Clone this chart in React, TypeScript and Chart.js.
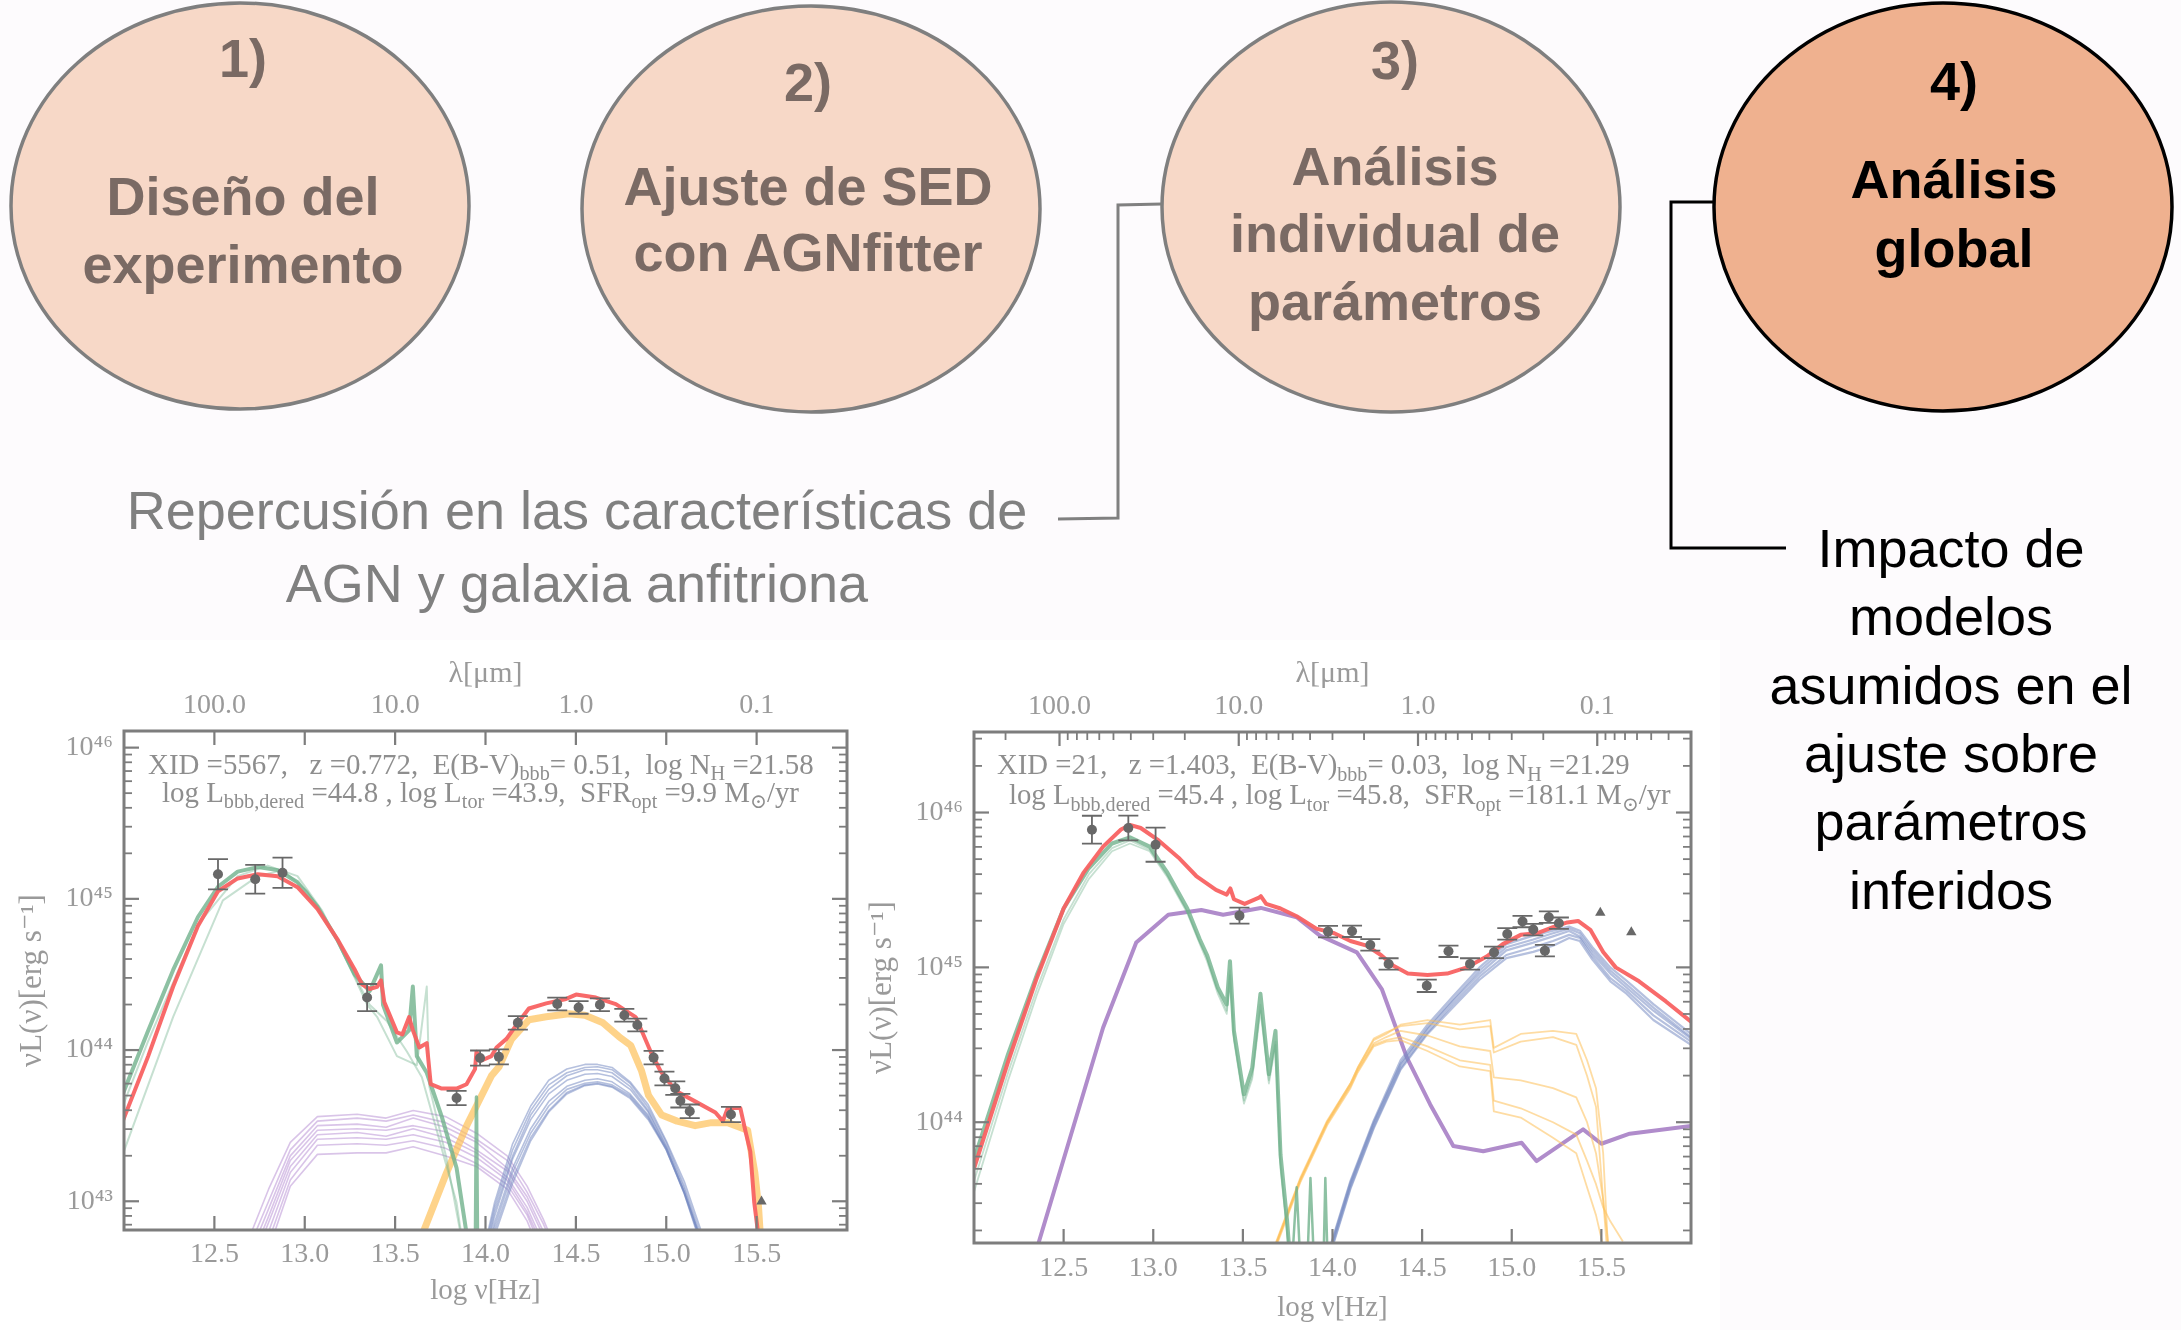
import React, { useEffect, useRef } from 'react';
import { Chart, registerables } from 'chart.js';
Chart.register(...registerables);

// ---------------- Diagram text ----------------
const STEP_LABELS = ['1)', '2)', '3)', '4)'];
const STEP_TITLES = [
  ['Diseño del', 'experimento'],
  ['Ajuste de SED', 'con AGNfitter'],
  ['Análisis', 'individual de', 'parámetros'],
  ['Análisis', 'global'],
];
const NOTE_LEFT = ['Repercusión en las características de', 'AGN y galaxia anfitriona'];
const NOTE_RIGHT = ['Impacto de', 'modelos', 'asumidos en el', 'ajuste sobre', 'parámetros', 'inferidos'];

// ---------------- Axis ticks ----------------
const X_TICKS = [12.5, 13.0, 13.5, 14.0, 14.5, 15.0, 15.5];
const Y_DECADES = [43, 44, 45, 46];
const LAMBDA_LABELS = ['100.0', '10.0', '1.0', '0.1'];
const LEFT_LAMBDA_POS = [12.5, 13.5, 14.5, 15.5];
const RIGHT_LAMBDA_POS = [12.477, 13.477, 14.477, 15.477];

// ================= LEFT SED (XID 5567) =================
const A_OBS_X = [12.52, 12.726, 12.877, 13.345, 13.84, 13.97, 14.074, 14.179, 14.397, 14.515, 14.633, 14.768, 14.84, 14.93, 14.99, 15.05, 15.078, 15.13, 15.358];
const A_OBS_Y = [45.163, 45.129, 45.172, 44.347, 43.683, 43.947, 43.955, 44.18, 44.305, 44.282, 44.3, 44.23, 44.166, 43.95, 43.812, 43.748, 43.665, 43.595, 43.574];
const A_OBS_ERR = [0.1, 0.095, 0.1, 0.09, 0.047, 0.05, 0.05, 0.045, 0.042, 0.042, 0.042, 0.042, 0.042, 0.045, 0.045, 0.045, 0.045, 0.045, 0.05];
const A_LIM_X = [15.527];
const A_LIM_Y = [42.999];

const A_RED_X = [11.99, 12.134, 12.272, 12.409, 12.52, 12.629, 12.74, 12.85, 12.96, 13.07, 13.18, 13.276, 13.318, 13.359, 13.4, 13.422, 13.44, 13.51, 13.54, 13.577, 13.598, 13.634, 13.675, 13.697, 13.758, 13.84, 13.895, 13.942, 13.95, 13.978, 14.033, 14.061, 14.116, 14.185, 14.24, 14.336, 14.446, 14.501, 14.611, 14.721, 14.831, 14.873, 14.914, 14.969, 15.052, 15.162, 15.272, 15.313, 15.34, 15.41, 15.437, 15.465, 15.487, 15.506, 15.52];
const A_RED_Y = [43.52, 43.96, 44.42, 44.82, 45.05, 45.135, 45.163, 45.149, 45.077, 44.934, 44.734, 44.533, 44.433, 44.404, 44.418, 44.461, 44.318, 44.117, 44.103, 44.218, 44.132, 44.017, 44.046, 43.774, 43.745, 43.745, 43.774, 43.874, 43.989, 43.931, 43.96, 44.017, 44.074, 44.189, 44.275, 44.309, 44.338, 44.367, 44.347, 44.304, 44.218, 44.103, 43.989, 43.86, 43.731, 43.659, 43.587, 43.53, 43.616, 43.616, 43.47, 43.33, 42.99, 42.81, 42.4];

const A_DUST1_X = [11.99, 12.134, 12.272, 12.409, 12.52, 12.629, 12.74, 12.85, 12.96, 13.07, 13.18, 13.276, 13.359, 13.422, 13.433, 13.51, 13.577, 13.598, 13.62, 13.675, 13.758, 13.84, 13.9];
const A_DUST1_Y = [43.7, 44.13, 44.53, 44.88, 45.08, 45.18, 45.21, 45.19, 45.11, 44.95, 44.73, 44.5, 44.39, 44.56, 44.3, 44.05, 44.13, 44.42, 43.96, 43.85, 43.56, 43.22, 42.75];
const A_DUST2_X = [11.99, 12.272, 12.547, 12.74, 12.877, 13.015, 13.152, 13.276, 13.345, 13.4, 13.51, 13.62, 13.675, 13.689, 13.785, 13.868];
const A_DUST2_Y = [43.3, 44.22, 44.99, 45.15, 45.19, 45.05, 44.79, 44.48, 44.3, 44.22, 43.96, 43.9, 44.42, 43.76, 43.28, 42.75];
const A_DUST3_X = [11.99, 12.134, 12.409, 12.629, 12.795, 12.96, 13.097, 13.276, 13.359, 13.455, 13.565, 13.648, 13.73, 13.84, 13.87];
const A_DUST3_Y = [43.62, 44.06, 44.83, 45.15, 45.22, 45.15, 44.92, 44.49, 44.3, 44.19, 43.99, 43.82, 43.47, 42.99, 42.75];
const A_DUST_SPIKE_X = [13.944, 13.95, 13.956];
const A_DUST_SPIKE_Y = [42.7, 43.69, 42.7];

const A_TORUS_X = [12.68, 12.8, 12.92, 13.07, 13.29, 13.45, 13.6, 13.78, 13.95, 14.12, 14.23, 14.32, 14.42];
const A_TORUS_1 = [42.72, 43.08, 43.39, 43.56, 43.575, 43.55, 43.6, 43.56, 43.45, 43.3, 43.1, 42.88, 42.6];
const A_TORUS_2 = [42.66, 43.0, 43.34, 43.53, 43.55, 43.53, 43.57, 43.52, 43.41, 43.27, 43.06, 42.85, 42.58];
const A_TORUS_3 = [42.6, 42.95, 43.3, 43.5, 43.51, 43.49, 43.55, 43.49, 43.39, 43.22, 43.03, 42.8, 42.52];
const A_TORUS_4 = [42.55, 42.9, 43.27, 43.47, 43.48, 43.47, 43.5, 43.46, 43.34, 43.2, 43.0, 42.77, 42.5];
const A_TORUS_5 = [42.5, 42.86, 43.23, 43.44, 43.455, 43.43, 43.48, 43.42, 43.32, 43.16, 42.96, 42.72, 42.45];
const A_TORUS_6 = [42.45, 42.8, 43.19, 43.41, 43.42, 43.41, 43.44, 43.39, 43.29, 43.14, 42.93, 42.69, 42.42];
const A_TORUS_7 = [42.4, 42.74, 43.14, 43.37, 43.38, 43.37, 43.4, 43.35, 43.25, 43.11, 42.91, 42.65, 42.4];
const A_TORUS_8 = [42.35, 42.68, 43.1, 43.31, 43.32, 43.32, 43.36, 43.3, 43.23, 43.08, 42.87, 42.61, 42.35];

const A_BBB_X = [13.98, 14.05, 14.15, 14.25, 14.35, 14.45, 14.55, 14.62, 14.7, 14.8, 14.9, 15.0, 15.1, 15.2, 15.26];
const A_BBB_1 = [42.62, 42.99, 43.38, 43.63, 43.8, 43.875, 43.905, 43.905, 43.885, 43.79, 43.64, 43.4, 43.13, 42.78, 42.5];
const A_BBB_2 = [42.6, 42.96, 43.34, 43.6, 43.77, 43.85, 43.885, 43.89, 43.87, 43.78, 43.62, 43.39, 43.1, 42.75, 42.5];
const A_BBB_3 = [42.57, 42.93, 43.3, 43.57, 43.74, 43.83, 43.87, 43.87, 43.85, 43.76, 43.6, 43.37, 43.08, 42.72, 42.48];
const A_BBB_4 = [42.55, 42.9, 43.28, 43.54, 43.71, 43.8, 43.84, 43.845, 43.825, 43.74, 43.59, 43.36, 43.06, 42.7, 42.45];
const A_BBB_5 = [42.52, 42.86, 43.22, 43.48, 43.66, 43.76, 43.8, 43.81, 43.79, 43.71, 43.57, 43.35, 43.05, 42.68, 42.43];
const A_BBB_6 = [42.5, 42.83, 43.19, 43.45, 43.63, 43.74, 43.78, 43.79, 43.77, 43.7, 43.56, 43.34, 43.05, 42.7, 42.45];
const A_BBB_7 = [42.47, 42.8, 43.15, 43.42, 43.6, 43.72, 43.77, 43.78, 43.76, 43.69, 43.55, 43.35, 43.06, 42.72, 42.48];
const A_BBB_8 = [42.45, 42.77, 43.12, 43.4, 43.59, 43.71, 43.765, 43.775, 43.755, 43.68, 43.54, 43.34, 43.06, 42.72, 42.5];

const A_STARS_X = [13.66, 13.785, 13.896, 13.958, 14.033, 14.075, 14.143, 14.24, 14.336, 14.46, 14.55, 14.65, 14.737, 14.804, 14.864, 14.902, 14.975, 15.06, 15.16, 15.25, 15.34, 15.45, 15.49, 15.51, 15.53];
const A_STARS_Y = [42.81, 43.19, 43.5, 43.65, 43.83, 43.89, 44.07, 44.2, 44.22, 44.24, 44.23, 44.18, 44.09, 44.03, 43.86, 43.7, 43.57, 43.53, 43.5, 43.52, 43.52, 43.47, 43.19, 42.97, 42.6];

// ================= RIGHT SED (XID 21) =================
const B_OBS_X = [12.658, 12.861, 13.013, 13.481, 13.975, 14.109, 14.211, 14.313, 14.526, 14.647, 14.767, 14.901, 14.975, 15.06, 15.12, 15.207, 15.263, 15.185];
const B_OBS_Y = [45.889, 45.9, 45.792, 45.334, 45.231, 45.233, 45.145, 45.022, 44.881, 45.104, 45.022, 45.097, 45.216, 45.296, 45.244, 45.324, 45.285, 45.108];
const B_OBS_ERR = [0.09, 0.08, 0.11, 0.052, 0.037, 0.037, 0.037, 0.037, 0.04, 0.037, 0.037, 0.037, 0.037, 0.037, 0.037, 0.037, 0.037, 0.037];
const B_LIM_X = [15.494, 15.667];
const B_LIM_Y = [45.352, 45.227];

const B_RED_X = [12.0, 12.19, 12.35, 12.5, 12.61, 12.72, 12.82, 12.87, 12.93, 13.03, 13.14, 13.24, 13.35, 13.41, 13.43, 13.45, 13.51, 13.59, 13.6, 13.63, 13.71, 13.8, 13.91, 14.01, 14.1, 14.19, 14.27, 14.34, 14.42, 14.53, 14.64, 14.75, 14.86, 14.95, 15.05, 15.14, 15.23, 15.31, 15.37, 15.44, 15.51, 15.58, 15.71, 15.86, 16.0];
const B_RED_Y = [43.7, 44.39, 44.93, 45.38, 45.61, 45.78, 45.89, 45.92, 45.9, 45.82, 45.71, 45.59, 45.5, 45.47, 45.51, 45.44, 45.41, 45.45, 45.46, 45.41, 45.38, 45.33, 45.25, 45.22, 45.17, 45.14, 45.08, 45.01, 44.96, 44.95, 44.96, 45.0, 45.07, 45.15, 45.21, 45.22, 45.26, 45.29, 45.3, 45.24, 45.1, 45.0, 44.91, 44.78, 44.65];

const B_DUST_X = [12.0, 12.19, 12.35, 12.5, 12.64, 12.77, 12.87, 12.98, 13.08, 13.19, 13.26, 13.3, 13.36, 13.41, 13.428, 13.45, 13.506, 13.552, 13.598, 13.645, 13.682, 13.71, 13.747, 13.77];
const B_DUST_1 = [43.76, 44.44, 44.95, 45.38, 45.64, 45.8, 45.84, 45.78, 45.61, 45.38, 45.18, 45.08, 44.87, 44.76, 45.04, 44.59, 44.18, 44.35, 44.83, 44.31, 44.59, 43.79, 43.36, 43.0];
const B_DUST_2 = [43.62, 44.32, 44.86, 45.31, 45.6, 45.77, 45.82, 45.76, 45.59, 45.36, 45.16, 45.06, 44.85, 44.72, 44.98, 44.55, 44.14, 44.3, 44.76, 44.27, 44.52, 43.74, 43.3, 43.0];
const B_DUST_3 = [43.55, 44.27, 44.82, 45.28, 45.57, 45.75, 45.8, 45.75, 45.58, 45.35, 45.15, 45.04, 44.83, 44.7, 44.95, 44.53, 44.12, 44.28, 44.72, 44.25, 44.5, 43.7, 43.28, 43.0];
const B_DUST_SPIKE_X = [13.77, 13.8, 13.82, 13.86, 13.877, 13.9, 13.95, 13.96, 13.975];
const B_DUST_SPIKE_Y = [43.0, 43.58, 43.1, 43.1, 43.64, 43.0, 43.1, 43.64, 43.0];

const B_TORUS_X = [12.3, 12.36, 12.72, 12.905, 13.084, 13.268, 13.39, 13.6, 13.8, 13.93, 14.136, 14.275, 14.415, 14.545, 14.674, 14.841, 15.055, 15.138, 15.398, 15.5, 15.658, 16.0];
const B_TORUS_Y = [43.0, 43.22, 44.61, 45.16, 45.34, 45.37, 45.34, 45.384, 45.324, 45.205, 45.097, 44.86, 44.417, 44.115, 43.846, 43.813, 43.867, 43.749, 43.954, 43.861, 43.926, 43.975];

const B_BBB_X = [13.98, 14.1, 14.23, 14.38, 14.53, 14.67, 14.82, 14.97, 15.12, 15.23, 15.32, 15.38, 15.45, 15.55, 15.64, 15.79, 16.0];
const B_BBB_1 = [43.17, 43.62, 44.01, 44.4, 44.63, 44.81, 45.0, 45.15, 45.205, 45.237, 45.263, 45.237, 45.13, 45.0, 44.914, 44.763, 44.57];
const B_BBB_2 = [43.16, 43.61, 44.0, 44.38, 44.61, 44.79, 44.98, 45.13, 45.18, 45.22, 45.25, 45.22, 45.11, 44.98, 44.89, 44.74, 44.55];
const B_BBB_3 = [43.15, 43.6, 43.99, 44.37, 44.6, 44.78, 44.96, 45.11, 45.16, 45.2, 45.235, 45.2, 45.09, 44.96, 44.87, 44.72, 44.54];
const B_BBB_4 = [43.13, 43.58, 43.97, 44.35, 44.58, 44.76, 44.94, 45.08, 45.13, 45.17, 45.21, 45.19, 45.07, 44.93, 44.85, 44.69, 44.52];
const B_BBB_5 = [43.12, 43.57, 43.96, 44.34, 44.57, 44.74, 44.92, 45.06, 45.1, 45.14, 45.19, 45.17, 45.05, 44.91, 44.83, 44.66, 44.5];

const B_STARS_X = [13.68, 13.82, 13.97, 14.1, 14.14, 14.23, 14.3, 14.38, 14.53, 14.71, 14.88, 14.9, 15.05, 15.23, 15.36, 15.42, 15.47, 15.51, 15.55, 15.62];
const B_STARS_1 = [43.21, 43.64, 44.01, 44.25, 44.35, 44.53, 44.57, 44.63, 44.66, 44.63, 44.66, 44.48, 44.57, 44.59, 44.57, 44.4, 44.22, 43.8, 42.9, 42.5];
const B_STARS_2 = [43.2, 43.63, 44.0, 44.24, 44.34, 44.51, 44.55, 44.59, 44.56, 44.49, 44.46, 44.29, 44.27, 44.22, 44.16, 44.0, 43.8, 43.5, 43.1, 42.6];
const B_STARS_3 = [43.19, 43.62, 43.99, 44.23, 44.33, 44.5, 44.53, 44.55, 44.49, 44.4, 44.37, 44.14, 44.09, 44.0, 43.92, 43.75, 43.6, 43.45, 43.36, 43.23];
const B_STARS_4 = [43.18, 43.61, 43.98, 44.22, 44.32, 44.49, 44.52, 44.53, 44.46, 44.36, 44.33, 44.07, 44.03, 43.9, 43.8, 43.58, 43.4, 43.2, 43.05, 42.8];
const B_STARS_5 = [43.2, 43.63, 44.0, 44.25, 44.35, 44.54, 44.58, 44.62, 44.64, 44.6, 44.62, 44.45, 44.52, 44.55, 44.5, 44.3, 44.1, 43.5, 42.9, 42.5];

// ---------------- Styling ----------------
const SERIF = "'Liberation Serif', 'DejaVu Serif', serif";
const SANS = "'Liberation Sans', Arial, Helvetica, sans-serif";
const AXIS = '#7d7d7d';
const LABEL = '#9a9a9a';
const RED = 'rgba(248,98,98,0.95)';
const GREEN = 'rgba(112,178,140,0.8)';
const GREEN_T = 'rgba(112,178,140,0.4)';
const PURPLE = 'rgba(170,125,205,0.45)';
const PURPLE_S = '#b08ccb';
const BLUE = 'rgba(120,140,195,0.55)';
const ORANGE = 'rgba(253,192,88,0.7)';
const ORANGE_T = 'rgba(253,192,88,0.55)';
const DOT = '#686868';

const SUP: Record<string, string> = { '0': '⁰', '1': '¹', '2': '²', '3': '³', '4': '⁴', '5': '⁵', '6': '⁶', '7': '⁷', '8': '⁸', '9': '⁹' };

type Seg = [string, string];
const A_INFO: Seg[][] = [
  [['XID =5567,   z =0.772,  E(B-V)', ''], ['bbb', 'sub'], ['= 0.51,  log N', ''], ['H', 'sub'], [' =21.58', '']],
  [['log L', ''], ['bbb,dered', 'sub'], [' =44.8 , log L', ''], ['tor', 'sub'], [' =43.9,  SFR', ''], ['opt', 'sub'], [' =9.9 M', ''], ['⊙', 'sub'], ['/yr', '']],
];
const B_INFO: Seg[][] = [
  [['XID =21,   z =1.403,  E(B-V)', ''], ['bbb', 'sub'], ['= 0.03,  log N', ''], ['H', 'sub'], [' =21.29', '']],
  [['log L', ''], ['bbb,dered', 'sub'], [' =45.4 , log L', ''], ['tor', 'sub'], [' =45.8,  SFR', ''], ['opt', 'sub'], [' =181.1 M', ''], ['⊙', 'sub'], ['/yr', '']],
];

function line(xs: number[], ys: number[], color: string, width: number, order: number) {
  return {
    data: xs.map((x, i) => ({ x, y: ys[i] })),
    showLine: true, borderColor: color, borderWidth: width, pointRadius: 0,
    fill: false, order, clip: 0, tension: 0, borderJoinStyle: 'round',
  };
}
function points(xs: number[], ys: number[], err: number[] | null, style: string, r: number) {
  return {
    data: xs.map((x, i) => ({ x, y: ys[i] })),
    showLine: false, pointRadius: r, pointStyle: style, pointBackgroundColor: DOT,
    pointBorderColor: DOT, pointBorderWidth: 0, order: 0, clip: 0, errorBars: err,
  };
}

const LEFT_DATASETS = [
  points(A_OBS_X, A_OBS_Y, A_OBS_ERR, 'circle', 5),
  points(A_LIM_X, A_LIM_Y, null, 'triangle', 6),
  line(A_RED_X, A_RED_Y, RED, 4, 1),
  line(A_DUST1_X, A_DUST1_Y, GREEN, 4, 2),
  line(A_DUST2_X, A_DUST2_Y, GREEN_T, 2, 2),
  line(A_DUST3_X, A_DUST3_Y, GREEN_T, 2, 2),
  line(A_DUST_SPIKE_X, A_DUST_SPIKE_Y, GREEN, 3.5, 2),
  line(A_STARS_X, A_STARS_Y, ORANGE, 7, 3),
  ...[A_BBB_1, A_BBB_2, A_BBB_3, A_BBB_4, A_BBB_5, A_BBB_6, A_BBB_7, A_BBB_8].map(ys => line(A_BBB_X, ys, BLUE, 1.6, 4)),
  ...[A_TORUS_1, A_TORUS_2, A_TORUS_3, A_TORUS_4, A_TORUS_5, A_TORUS_6, A_TORUS_7, A_TORUS_8].map(ys => line(A_TORUS_X, ys, PURPLE, 1.6, 5)),
];

const RIGHT_DATASETS = [
  points(B_OBS_X, B_OBS_Y, B_OBS_ERR, 'circle', 5),
  points(B_LIM_X, B_LIM_Y, null, 'triangle', 6),
  line(B_RED_X, B_RED_Y, RED, 4, 1),
  line(B_DUST_X, B_DUST_1, GREEN, 4, 2),
  line(B_DUST_X, B_DUST_2, GREEN_T, 1.8, 2),
  line(B_DUST_X, B_DUST_3, GREEN_T, 1.8, 2),
  line(B_DUST_SPIKE_X, B_DUST_SPIKE_Y, GREEN, 2.5, 2),
  ...[B_BBB_1, B_BBB_2, B_BBB_3, B_BBB_4, B_BBB_5].map(ys => line(B_BBB_X, ys, BLUE, 2.2, 4)),
  ...[B_STARS_1, B_STARS_2, B_STARS_3, B_STARS_4, B_STARS_5].map(ys => line(B_STARS_X, ys, ORANGE_T, 1.8, 3)),
  line(B_TORUS_X, B_TORUS_Y, PURPLE_S, 4, 5),
];

function lambdaMinor(): number[] {
  const out: number[] = [];
  for (let k = -2; k <= 3; k++) for (let m = 2; m <= 9; m++) out.push(14.477 - (k + Math.log10(m)));
  return out.filter(v => v > 12 && v < 16);
}

type Spec = {
  x: number; y: number; w: number; h: number;
  padRight: number; yAxisW: number; xAxisH: number; topAxisH: number;
  yMin: number; yMax: number;
  datasets: any[];
  topLabelPos: number[]; topMajor: number[]; topMinor: number[];
  xTickPad: number; xTitlePad: number; topTickPad: number; topTitlePad: number; yTickPad: number; yTitlePad: number;
  info: Seg[][]; infoPos: number[][]; infoWidth: number;
};

const LEFT_SPEC: Spec = {
  x: 0, y: 640, w: 853, h: 690, padRight: 4, yAxisW: 124, xAxisH: 100, topAxisH: 91,
  yMin: 42.81, yMax: 46.11, datasets: LEFT_DATASETS,
  topLabelPos: LEFT_LAMBDA_POS, topMajor: X_TICKS, topMinor: [],
  xTickPad: 8, xTitlePad: 21, topTickPad: 9, topTitlePad: 16, yTickPad: 11, yTitlePad: 14,
  info: A_INFO, infoPos: [[148, 124], [162, 152]], infoWidth: 666,
};
const RIGHT_SPEC: Spec = {
  x: 853, y: 640, w: 867, h: 690, padRight: 29, yAxisW: 121, xAxisH: 87, topAxisH: 92,
  yMin: 43.22, yMax: 46.52, datasets: RIGHT_DATASETS,
  topLabelPos: RIGHT_LAMBDA_POS, topMajor: RIGHT_LAMBDA_POS, topMinor: lambdaMinor(),
  xTickPad: 9, xTitlePad: 4, topTickPad: 9, topTitlePad: 16, yTickPad: 11, yTitlePad: 11,
  info: B_INFO, infoPos: [[144, 125], [156, 155]], infoWidth: 633,
};

function drawRich(ctx: CanvasRenderingContext2D, segs: Seg[], x: number, baseline: number, size: number) {
  let cx = x;
  for (const [t, kind] of segs) {
    const s = kind === 'sub' ? size * 0.7 : size;
    ctx.font = `${s}px ${SERIF}`;
    ctx.fillText(t, cx, baseline + (kind === 'sub' ? size * 0.22 : 0));
    cx += ctx.measureText(t).width;
  }
  return cx - x;
}
function measureRich(ctx: CanvasRenderingContext2D, segs: Seg[], size: number) {
  let w = 0;
  for (const [t, kind] of segs) {
    ctx.font = `${kind === 'sub' ? size * 0.7 : size}px ${SERIF}`;
    w += ctx.measureText(t).width;
  }
  return w;
}

function makePlugin(spec: Spec) {
  return {
    id: 'sedDecor',
    afterDatasetsDraw(chart: any) {
      const ctx = chart.ctx as CanvasRenderingContext2D;
      const ys = chart.scales.y;
      chart.data.datasets.forEach((ds: any, i: number) => {
        if (!ds.errorBars) return;
        const meta = chart.getDatasetMeta(i);
        ctx.save();
        ctx.strokeStyle = DOT; ctx.lineWidth = 1.8;
        meta.data.forEach((el: any, j: number) => {
          const v = ds.data[j].y; const e = ds.errorBars[j];
          const y1 = ys.getPixelForValue(v + e); const y2 = ys.getPixelForValue(v - e);
          ctx.beginPath();
          ctx.moveTo(el.x, y1); ctx.lineTo(el.x, y2);
          ctx.moveTo(el.x - 10, y1); ctx.lineTo(el.x + 10, y1);
          ctx.moveTo(el.x - 10, y2); ctx.lineTo(el.x + 10, y2);
          ctx.stroke();
        });
        ctx.restore();
      });
    },
    afterDraw(chart: any) {
      const ctx = chart.ctx as CanvasRenderingContext2D;
      const { left, right, top, bottom } = chart.chartArea;
      const xs = chart.scales.x; const ys = chart.scales.y;
      ctx.save();
      ctx.strokeStyle = AXIS;
      const seg = (x1: number, y1: number, x2: number, y2: number, w: number) => {
        ctx.lineWidth = w; ctx.beginPath(); ctx.moveTo(x1, y1); ctx.lineTo(x2, y2); ctx.stroke();
      };
      X_TICKS.forEach(v => { const p = xs.getPixelForValue(v); seg(p, bottom, p, bottom - 14, 2.2); });
      spec.topMajor.forEach(v => { const p = xs.getPixelForValue(v); seg(p, top, p, top + 14, 2.2); });
      spec.topMinor.forEach(v => { const p = xs.getPixelForValue(v); seg(p, top, p, top + 8, 1.8); });
      for (let d = 42; d <= 47; d++) {
        for (let m = 1; m <= 9; m++) {
          const v = d + Math.log10(m);
          if (v <= spec.yMin || v >= spec.yMax) continue;
          const p = ys.getPixelForValue(v);
          const len = m === 1 ? 15 : 8;
          const w = m === 1 ? 2.2 : 1.8;
          seg(left, p, left + len, p, w);
          seg(right, p, right - len, p, w);
        }
      }
      ctx.lineWidth = 3;
      ctx.strokeRect(left, top, right - left, bottom - top);
      ctx.fillStyle = '#8e8e8e';
      ctx.textBaseline = 'alphabetic';
      ctx.textAlign = 'left';
      const nat = measureRich(ctx, spec.info[0], 20);
      const size = 20 * spec.infoWidth / nat;
      spec.info.forEach((segs, i) => {
        const [px, py] = spec.infoPos[i];
        drawRich(ctx, segs, px, py + size * 0.33, size);
      });
      ctx.restore();
    },
  };
}

function buildConfig(spec: Spec): any {
  const tickFont = { family: SERIF, size: 28 };
  return {
    type: 'scatter',
    data: { datasets: spec.datasets },
    options: {
      animation: false, responsive: false, maintainAspectRatio: false, events: [],
      layout: { padding: { left: 0, right: spec.padRight, top: 0, bottom: 0 } },
      plugins: { legend: { display: false }, tooltip: { enabled: false }, title: { display: false } },
      scales: {
        x: {
          type: 'linear', position: 'bottom', min: 12, max: 16,
          grid: { display: false, drawTicks: false }, border: { display: false },
          ticks: { font: tickFont, color: LABEL, padding: spec.xTickPad, maxRotation: 0, minRotation: 0, autoSkip: false,
            callback: (v: any) => Number(v).toFixed(1) },
          title: { display: true, text: 'log ν[Hz]', font: { family: SERIF, size: 29 }, color: LABEL, padding: { top: 0, bottom: spec.xTitlePad } },
          afterBuildTicks: (s: any) => { s.ticks = X_TICKS.map(v => ({ value: v })); },
          afterFit: (s: any) => { s.height = spec.xAxisH; },
        },
        xTop: {
          type: 'linear', position: 'top', axis: 'x', min: 12, max: 16,
          grid: { display: false, drawTicks: false }, border: { display: false },
          ticks: { font: tickFont, color: LABEL, padding: spec.topTickPad, maxRotation: 0, minRotation: 0, autoSkip: false,
            callback: (_v: any, i: number) => LAMBDA_LABELS[i] },
          title: { display: true, text: 'λ[μm]', font: { family: SERIF, size: 30 }, color: LABEL, padding: { top: spec.topTitlePad, bottom: 0 } },
          afterBuildTicks: (s: any) => { s.ticks = spec.topLabelPos.map(v => ({ value: v })); },
          afterFit: (s: any) => { s.height = spec.topAxisH; },
        },
        y: {
          type: 'linear', position: 'left', min: spec.yMin, max: spec.yMax,
          grid: { display: false, drawTicks: false }, border: { display: false },
          ticks: { font: tickFont, color: LABEL, padding: spec.yTickPad, autoSkip: false,
            callback: (v: any) => '10' + String(Math.round(Number(v))).split('').map(c => SUP[c]).join('') },
          title: { display: true, text: 'νL(ν)[erg s⁻¹]', font: { family: SERIF, size: 31 }, color: LABEL, padding: { top: spec.yTitlePad, bottom: 0 } },
          afterBuildTicks: (s: any) => { s.ticks = Y_DECADES.filter(d => d > spec.yMin && d < spec.yMax).map(v => ({ value: v })); },
          afterFit: (s: any) => { s.width = spec.yAxisW; },
        },
      },
    },
    plugins: [makePlugin(spec)],
  };
}

function SedChart({ spec }: { spec: Spec }) {
  const ref = useRef<HTMLCanvasElement>(null);
  useEffect(() => {
    if (!ref.current) return;
    const chart = new Chart(ref.current, buildConfig(spec));
    return () => chart.destroy();
  }, [spec]);
  return (
    <canvas ref={ref} width={spec.w} height={spec.h}
      style={{ position: 'absolute', left: spec.x, top: spec.y, width: spec.w, height: spec.h, background: '#ffffff' }} />
  );
}

// ---------------- Diagram geometry ----------------
const ELLIPSES = [
  { cx: 240, cy: 206, rx: 229, ry: 203, fill: '#F7D8C7', stroke: '#7f7f7f' },
  { cx: 811, cy: 209, rx: 229, ry: 203, fill: '#F7D8C7', stroke: '#7f7f7f' },
  { cx: 1391, cy: 207, rx: 229, ry: 205, fill: '#F7D8C7', stroke: '#7f7f7f' },
  { cx: 1943, cy: 207, rx: 229, ry: 204, fill: '#EFB18F', stroke: '#000000' },
];
const STEP_TEXT_POS = [
  { cx: 243, ys: [58, 196, 264], color: '#7a6a64' },
  { cx: 808, ys: [82, 186, 252], color: '#7a6a64' },
  { cx: 1395, ys: [60, 165.5, 233, 300.5], color: '#7a6a64' },
  { cx: 1954, ys: [81, 179, 248], color: '#000000' },
];

function TextLine({ text, cx, cy, size, bold, color }: { text: string; cx: number; cy: number; size: number; bold?: boolean; color: string }) {
  return (
    <div style={{
      position: 'absolute', left: cx - 500, top: cy - 34, width: 1000, height: 68, lineHeight: '68px',
      textAlign: 'center', fontFamily: SANS, fontSize: size, fontWeight: bold ? 700 : 400, color, whiteSpace: 'nowrap',
    }}>{text}</div>
  );
}

export default function App() {
  return (
    <div style={{ position: 'absolute', left: 0, top: 0, width: 2181, height: 1330, background: '#fdfbfd', overflow: 'hidden' }}>
      <svg width={2181} height={1330} style={{ position: 'absolute', left: 0, top: 0 }}>
        {ELLIPSES.map((e, i) => (
          <ellipse key={i} cx={e.cx} cy={e.cy} rx={e.rx} ry={e.ry} fill={e.fill} stroke={e.stroke} strokeWidth={3.5} />
        ))}
        <polyline points="1162,204 1118,205 1118,518 1058,519" fill="none" stroke="#808080" strokeWidth={3} />
        <polyline points="1714,202 1671,202 1671,548 1786,548" fill="none" stroke="#000000" strokeWidth={3} />
      </svg>
      <SedChart spec={LEFT_SPEC} />
      <SedChart spec={RIGHT_SPEC} />
      {STEP_TEXT_POS.map((p, i) => (
        <React.Fragment key={i}>
          <TextLine text={STEP_LABELS[i]} cx={p.cx} cy={p.ys[0]} size={54} bold color={p.color} />
          {STEP_TITLES[i].map((t, j) => (
            <TextLine key={j} text={t} cx={p.cx} cy={p.ys[j + 1]} size={54} bold color={p.color} />
          ))}
        </React.Fragment>
      ))}
      {NOTE_LEFT.map((t, i) => (
        <TextLine key={'l' + i} text={t} cx={577} cy={510 + 73 * i} size={54} color="#808080" />
      ))}
      {NOTE_RIGHT.map((t, i) => (
        <TextLine key={'r' + i} text={t} cx={1951} cy={548 + 68.3 * i} size={54} color="#000000" />
      ))}
    </div>
  );
}
